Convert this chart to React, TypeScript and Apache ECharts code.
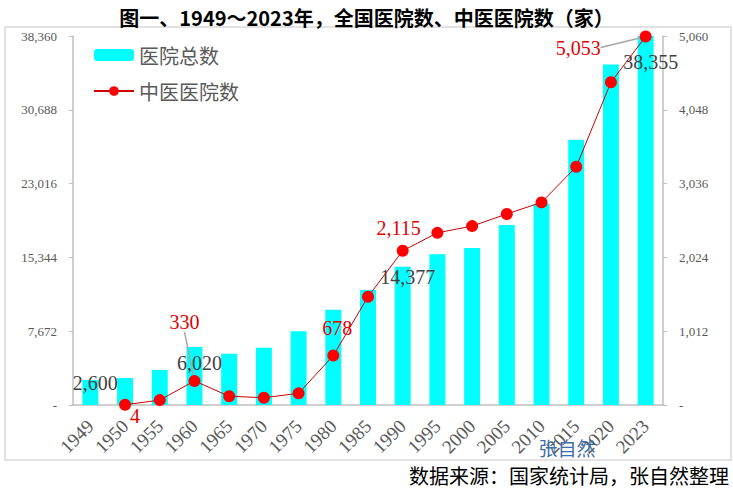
import React, { useEffect, useRef } from "react";
import * as echarts from "echarts";

const years = ["1949", "1950", "1955", "1960", "1965", "1970", "1975", "1980", "1985", "1990", "1995", "2000", "2005", "2010", "2015", "2020", "2023"];
const hospitals = [2600, 2803, 3648, 6020, 5330, 5964, 7654, 9902, 11955, 14377, 15663, 16318, 18703, 20918, 27587, 35394, 38355];
const tcmHospitals: (number | null)[] = [null, 4, 67, 330, 120, 100, 160, 678, 1485, 2115, 2361, 2453, 2620, 2778, 3267, 4426, 5053];
const leftTicks = { max: 38360, interval: 7672 };
const rightTicks = { max: 5060, interval: 1012 };

const titleText = "图一、1949～2023年，全国医院数、中医医院数（家）";
const sourceText = "数据来源：国家统计局，张自然整理";
const watermark = "张自然";

// label placement (style only)
const barLabelOffsets: Record<number, [number, number]> = {
  0: [5, 18],
  3: [5, 31],
  9: [5, 25],
  16: [5, 41],
};
const lineLabelPos: Record<number, string> = {
  1: "bottom",
  3: "top",
  7: "top",
  9: "top",
  16: "left",
};
const lineLabelMoves: Record<number, { dx: number; dy: number }> = {
  1: { dx: 10, dy: -10 },
  3: { dx: -10, dy: -38 },
  7: { dx: 4, dy: -7 },
  9: { dx: -4, dy: -2 },
  16: { dx: -34, dy: 11 },
};
const leaderLines = [3, 16];

const fmt = (v: number) => v.toLocaleString("en-US");
const serif = "Liberation Serif";
const cjk = "Noto Sans CJK SC";

export default function App() {
  const ref = useRef<HTMLDivElement>(null);
  useEffect(() => {
    if (!ref.current) return;
    const chart = echarts.init(ref.current, null, { renderer: "svg" });
    const barData = hospitals.map((v, i) => {
      const off = barLabelOffsets[i];
      return off
        ? { value: v, label: { show: true, position: "top", offset: off } }
        : { value: v, label: { show: false } };
    });
    const lineData = tcmHospitals.map((v, i) => {
      const val = v === null ? "-" : v;
      const pos = lineLabelPos[i];
      if (!pos) return { value: val, label: { show: false } };
      const item: any = { value: val, label: { show: true, position: pos } };
      if (leaderLines.includes(i)) {
        item.labelLine = { show: true, lineStyle: { color: "#a6a6a6", width: 1.5 } };
      }
      return item;
    });
    chart.setOption({
      animation: false,
      backgroundColor: "#ffffff",
      title: {
        text: titleText,
        left: "center",
        top: 2,
        textStyle: { fontFamily: cjk, fontWeight: "bold", fontSize: 20, color: "#000000" },
      },
      legend: {
        orient: "vertical",
        left: 88,
        top: 40,
        itemWidth: 40,
        itemHeight: 12,
        itemGap: 16,
        itemStyle: { borderWidth: 0 },
        textStyle: { fontFamily: cjk, fontSize: 20, color: "#595959" },
        data: ["医院总数", "中医医院数"],
      },
      grid: { left: 73, right: 70, top: 36, bottom: 84 },
      xAxis: {
        type: "category",
        data: years,
        axisLine: { lineStyle: { color: "#bfbfbf", width: 1.5 } },
        axisTick: { show: false },
        axisLabel: { rotate: 45, fontFamily: serif, fontSize: 19, color: "#595959", margin: 18, interval: 0 },
      },
      yAxis: [
        {
          type: "value",
          min: 0,
          max: leftTicks.max,
          interval: leftTicks.interval,
          splitLine: { show: false },
          axisLine: { show: true, lineStyle: { color: "#bfbfbf", width: 1.5 } },
          axisTick: { show: true, length: 4, lineStyle: { color: "#bfbfbf" } },
          axisLabel: {
            fontFamily: serif,
            fontSize: 13,
            color: "#595959",
            margin: 16,
            formatter: (v: number) => (v === 0 ? "-" : fmt(v)),
          },
        },
        {
          type: "value",
          min: 0,
          max: rightTicks.max,
          interval: rightTicks.interval,
          splitLine: { show: false },
          axisLine: { show: true, lineStyle: { color: "#bfbfbf", width: 1.5 } },
          axisTick: { show: true, length: 4, lineStyle: { color: "#bfbfbf" } },
          axisLabel: {
            fontFamily: serif,
            fontSize: 13,
            color: "#595959",
            margin: 16,
            formatter: (v: number) => (v === 0 ? "-" : fmt(v)),
          },
        },
      ],
      series: [
        {
          name: "医院总数",
          type: "bar",
          data: barData,
          barWidth: "46%",
          itemStyle: { color: "#00ffff" },
          label: {
            fontFamily: serif,
            fontSize: 20,
            color: "#404040",
            formatter: (p: any) => fmt(p.value),
          },
          z: 2,
        },
        {
          name: "中医医院数",
          type: "line",
          yAxisIndex: 1,
          data: lineData,
          symbol: "circle",
          symbolSize: 12,
          itemStyle: { color: "#ff0000" },
          lineStyle: { color: "#cc0000", width: 1 },
          label: {
            fontFamily: serif,
            fontSize: 20,
            color: "#e00000",
            formatter: (p: any) => fmt(p.value),
          },
          labelLayout: (params: any) => {
            const m = lineLabelMoves[params.dataIndex];
            return m ? { dx: m.dx, dy: m.dy } : {};
          },
          z: 3,
        },
      ],
      graphic: [
        {
          type: "rect",
          shape: { x: 5, y: 27, width: 726, height: 433 },
          style: { fill: "none", stroke: "#d9d9d9", lineWidth: 1.5 },
          z: -1,
          silent: true,
        },
        {
          type: "text",
          x: 567,
          y: 447,
          style: {
            text: watermark,
            fill: "#3c6eaa",
            font: `19px "${cjk}"`,
            textAlign: "center",
            textVerticalAlign: "middle",
          },
          z: 10,
        },
        {
          type: "text",
          x: 729,
          y: 475,
          style: {
            text: sourceText,
            fill: "#000000",
            font: `20px "${cjk}"`,
            textAlign: "right",
            textVerticalAlign: "middle",
          },
        },
      ],
    });
    return () => chart.dispose();
  }, []);
  return (
    <div
      ref={ref}
      style={{ position: "fixed", left: 0, top: 0, width: 733, height: 489, background: "#fff" }}
    />
  );
}
